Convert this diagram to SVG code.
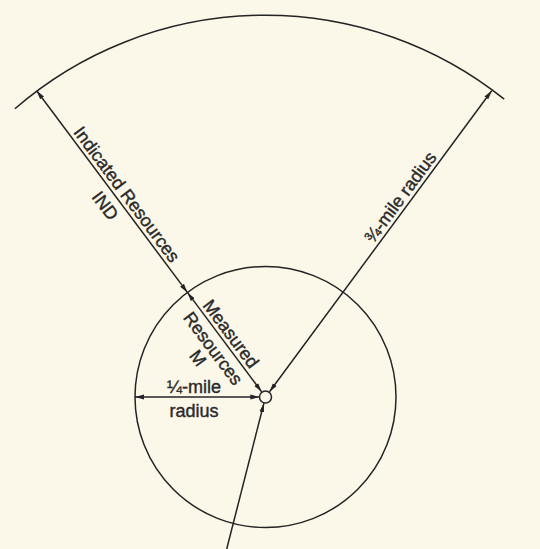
<svg xmlns="http://www.w3.org/2000/svg" width="540" height="549" viewBox="0 0 540 549">
<style>
.ln{stroke:#242424;stroke-width:1.5;fill:none}
.t{font-family:"Liberation Sans",Arial,sans-serif;font-size:18px;fill:#2a2a2a;stroke:#2a2a2a;stroke-width:0.4;text-anchor:middle}
</style>
<defs>
<marker id="ah" markerUnits="userSpaceOnUse" viewBox="0 0 9 6" markerWidth="9" markerHeight="6" refX="9" refY="3" orient="auto-start-reverse">
<path d="M0,0.6 L9,3 L0,5.4 z" fill="#242424"/>
</marker>
</defs>
<rect width="540" height="549" fill="#fbf7e9"/>
<g id="outer-arc">
<path class="ln" d="M14.9,108.7 A382,382 0 0 1 504.2,99.2"/>
</g>
<g id="quarter-circle">
<circle class="ln" cx="265.5" cy="397" r="130.5"/>
</g>
<g id="well">
<circle class="ln" cx="265.5" cy="397" r="6" stroke-width="1.7"/>
</g>
<g id="connectors">
<line class="ln" x1="36.7" y1="90.7" x2="187.4" y2="292.4" marker-start="url(#ah)" marker-end="url(#ah)"/>
<line class="ln" x1="187.4" y1="292.4" x2="261.6" y2="391.8" marker-start="url(#ah)" marker-end="url(#ah)"/>
<line class="ln" x1="491.7" y1="90.7" x2="269.5" y2="391.8" marker-start="url(#ah)" marker-end="url(#ah)"/>
<line class="ln" x1="135" y1="397" x2="259.3" y2="397" marker-start="url(#ah)" marker-end="url(#ah)"/>
<line class="ln" x1="226.7" y1="549" x2="263.9" y2="403.3" marker-end="url(#ah)"/>
</g>
<g id="labels">
<text class="t" transform="translate(121.9,198.1) rotate(53.24)">Indicated Resources</text>
<text class="t" transform="translate(100.3,209.3) rotate(53.24)">IND</text>
<text class="t" transform="translate(226,337.5) rotate(53.24)">Measured</text>
<text class="t" transform="translate(208.2,352.1) rotate(53.24)">Resources</text>
<text class="t" transform="translate(193,361.7) rotate(53.24)">M</text>
<text class="t" transform="translate(405.3,200.9) rotate(-53.55)">¾-mile radius</text>
<text class="t" x="194" y="393">¼-mile</text>
<text class="t" x="194" y="416.5">radius</text>
</g>
</svg>
